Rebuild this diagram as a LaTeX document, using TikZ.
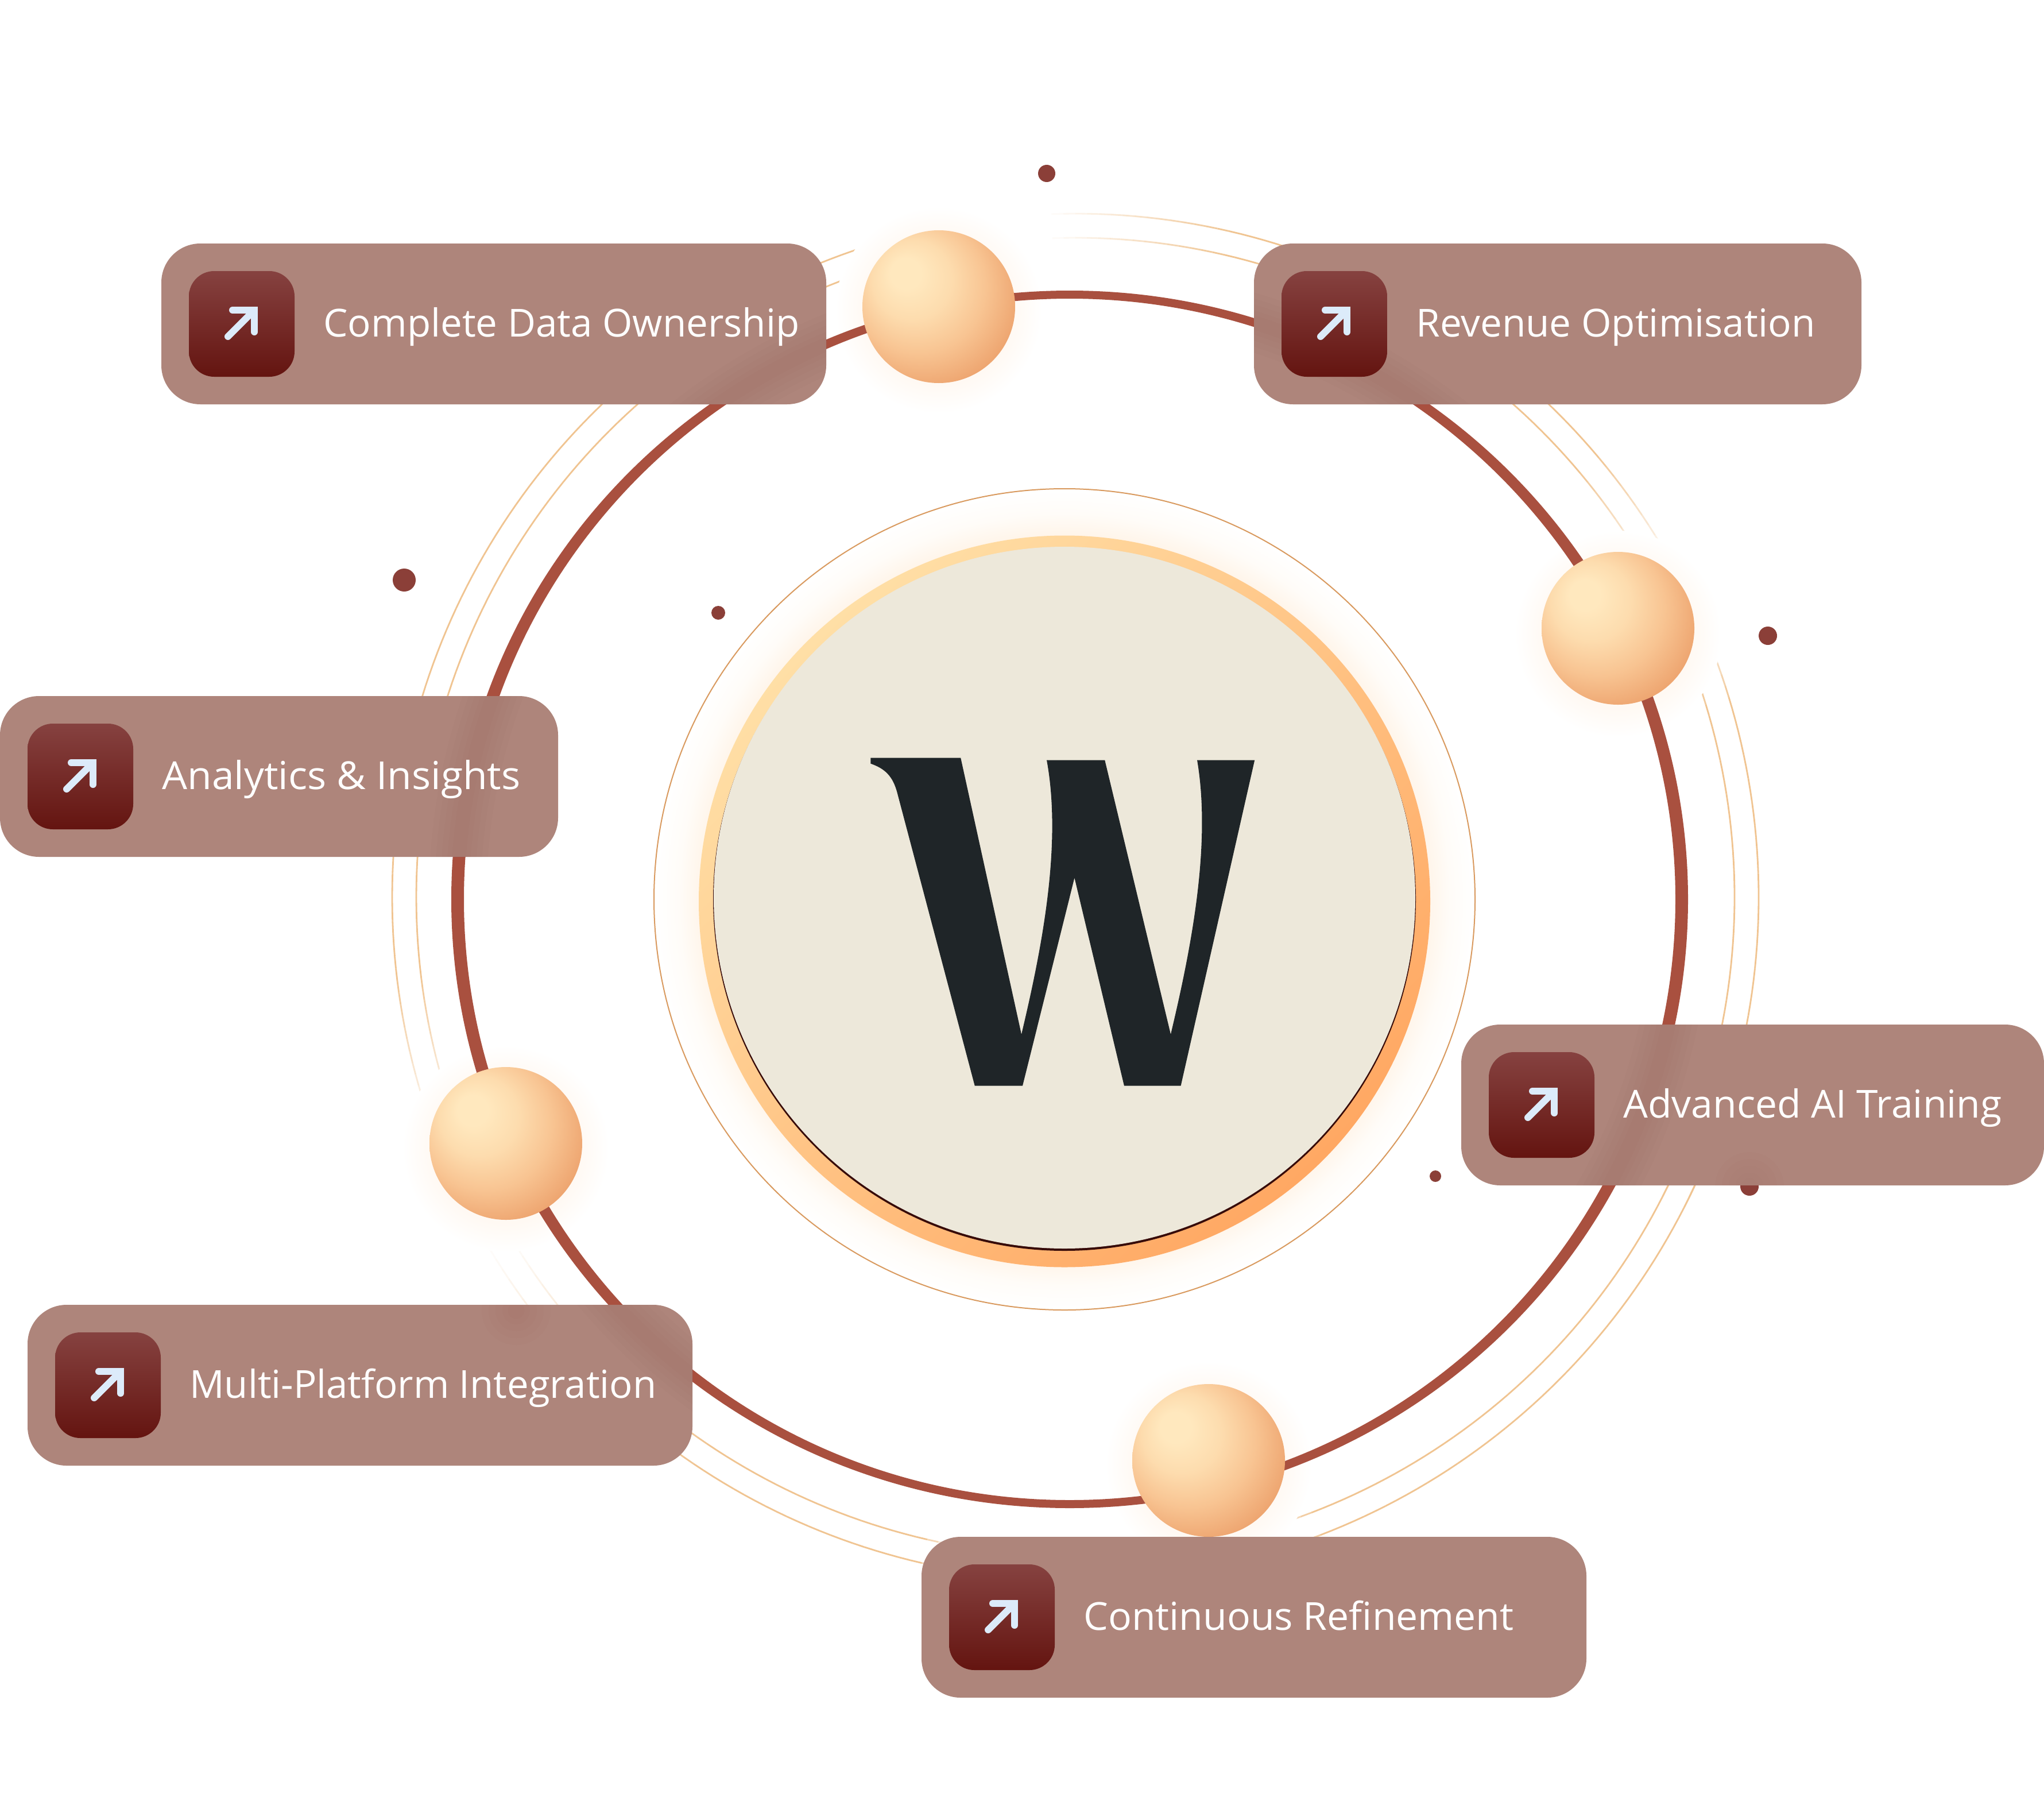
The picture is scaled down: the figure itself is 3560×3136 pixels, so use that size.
\documentclass[tikz,border=0pt]{standalone}
\usepackage{fontspec}
\usepackage{graphicx}
\setmainfont{Open Sans}
\definecolor{ringc}{HTML}{A9503F}
\definecolor{thinc}{HTML}{F0C491}
\definecolor{thinr}{HTML}{D99A5F}
\definecolor{pillc}{HTML}{AE857B}
\definecolor{iconT}{HTML}{864240}
\definecolor{iconB}{HTML}{641410}
\definecolor{arrowc}{HTML}{DCEBFA}
\definecolor{dotc}{HTML}{8B3F38}
\definecolor{discc}{HTML}{EDE8DA}
\definecolor{wordc}{HTML}{1F2528}
\definecolor{sphA}{HTML}{FFE8BE}
\definecolor{sphM}{HTML}{FDDCAE}
\definecolor{sphB}{HTML}{F8C492}
\definecolor{sphC}{HTML}{EEA671}
\definecolor{haloA}{HTML}{FFF4E8}
\definecolor{haloB}{HTML}{FFFCF8}
\definecolor{glowA}{HTML}{FFF9F3}
\definecolor{blurc}{HTML}{8F4F45}
\definecolor{bandT}{HTML}{FFDFA6}
\definecolor{bandB}{HTML}{FFA863}
\pgfdeclareradialshading{sphshade}{\pgfpoint{-12bp}{12bp}}{color(0bp)=(sphA);color(5bp)=(sphA);color(13bp)=(sphM);color(22bp)=(sphB);color(31bp)=(sphC);color(50bp)=(sphC)}
\pgfdeclareradialshading{haloshade}{\pgfpoint{0bp}{0bp}}{color(0bp)=(haloA);color(22bp)=(haloA);color(23.5bp)=(haloB);color(25bp)=(white);color(50bp)=(white)}
\pgfdeclareradialshading{glowshade}{\pgfpoint{0bp}{0bp}}{color(0bp)=(glowA);color(18bp)=(glowA);color(25bp)=(white);color(50bp)=(white)}
\tikzset{
  pillbox/.style={rectangle,rounded corners=34pt,fill=pillc,inner sep=0pt,minimum height=140pt},
  iconbox/.style={rectangle,rounded corners=22pt,top color=iconT,bottom color=iconB,inner sep=0pt,minimum width=92pt,minimum height=92pt},
  iconarrow/.style={draw=arrowc,line width=6pt,line cap=round,line join=miter},
  sphere/.style={circle,inner sep=0pt,minimum size=133pt,shading=sphshade},
  glowball/.style={circle,inner sep=0pt,minimum size=180pt,shading=glowshade},
  speck/.style={circle,inner sep=0pt,fill=dotc},
  plabel/.style={anchor=base west,inner sep=0pt,text=white,font=\fontsize{33.6pt}{40pt}\selectfont},
}
% one thin arc with faded ends; #1 radius, #2 start, #3 end, #4 fade at start, #5 fade at end
\newcommand\fadearc[5]{%
  \foreach \aa in {#2,...,#3}{%
    \pgfmathsetmacro\bb{\aa+1}%
    \pgfmathsetmacro\oo{max(0.05,min(1,min((\aa-#2+1)/#4,(#3-\aa+1)/#5)))}%
    \draw[thinc,line width=1.4pt,opacity=\oo,shift={(1873,1562)}] (\aa:#1) -- (\bb:#1);
  }%
}
\newcommand\bothfade[4]{\fadearc{1148}{#1}{#2}{#3}{#4}\fadearc{1190}{#1}{#2}{#3}{#4}}
\newcommand\ringpath{(1863,1566) ellipse [x radius=1077,y radius=1060] (1863,1566) ellipse [x radius=1055,y radius=1046]}
\newcommand\blurstuff{%
  \foreach \w in {50,40,30,20,12}{%
    \draw[blurc,opacity=.035,line width=\w pt] (1863,1566) ellipse [x radius=1066,y radius=1053];
    \fill[blurc,opacity=.03] (899,2282) circle (\w*1.2);
    \fill[blurc,opacity=.02] (3047,2066) circle (\w*1.2);
  }%
}
% name, left, top, width, text width, text
\newcommand\pillitem[6]{%
  \node[pillbox,minimum width=#4*0.5pt] (#1) at (#2+#4/2,#3+140) {};
  \begin{scope}
    \clip[rounded corners=34pt] (#2,#3) rectangle ++(#4,280);
    \blurstuff
  \end{scope}
  \node[iconbox] (#1i) at (#2+48+92,#3+48+92) {};
  \draw[iconarrow] (#2+48+68,#3+48+114) -- (#2+48+112,#3+48+70);
  \draw[iconarrow] (#2+48+76,#3+48+68) -- (#2+48+114,#3+48+68) -- (#2+48+114,#3+48+106);
  \node[plabel] (#1t) at (#2+282,#3+162) {\resizebox{\dimexpr#5pt/2\relax}{\height}{#6}};
}
\begin{document}
\begin{tikzpicture}[x=0.5pt,y=-0.5pt]
\useasboundingbox (0,0) rectangle (3560,3136);
\fill[white] (0,0) rectangle (3560,3136);

% thin outer arcs
\bothfade{-92}{-66}{16}{2}
\bothfade{-54}{-30}{2}{12}
\bothfade{-24}{26}{8}{2}
\bothfade{24}{73}{2}{6}
\bothfade{101}{148}{3}{26}
\bothfade{160}{232}{14}{2}
\bothfade{244}{256}{2}{6}

% glows
\node[glowball] (gA) at (1635,540) {};
\node[glowball] (gB) at (2818,1104) {};
\node[glowball] (gC) at (881,2000) {};
\node[glowball] (gD) at (2105,2550) {};

% main ring
\fill[ringc,even odd rule] \ringpath;

% specks
\node[speck,minimum size=15pt] (dA) at (1823,302) {};
\node[speck,minimum size=20pt] (dB) at (704,1010) {};
\node[speck,minimum size=12pt] (dC) at (1251,1067) {};
\node[speck,minimum size=16pt] (dD) at (3079,1107) {};
\node[speck,minimum size=10pt] (dE) at (2500,2048) {};
\node[speck,minimum size=16pt] (dF) at (3047,2066) {};

% centre
\node[circle,inner sep=0pt,minimum size=715pt,shading=haloshade] (halo) at (1854,1566) {};
\node[circle,draw=thinr,line width=1pt,inner sep=0pt,minimum size=715pt] (outerline) at (1854,1566) {};
\node[circle,inner sep=0pt,minimum size=637pt,top color=bandT,bottom color=bandB,shading angle=45] (band) at (1854,1569.5) {};
\node[circle,inner sep=0pt,minimum size=612pt,fill=black!45!iconB] (rim) at (1854,1566) {};
\node[circle,inner sep=0pt,minimum size=611pt,fill=discc] (disc) at (1854,1563) {};

% W
\fill[wordc] (1516.3,1319.6) -- (1673.2,1319.6) -- (1779,1801)
  .. controls (1815,1650) and (1850,1470) .. (1823,1323.5)
  -- (1924.2,1323.5) -- (2039,1801)
  .. controls (2075,1650) and (2110,1470) .. (2085,1323.5)
  -- (2185.2,1323.5) -- (2056.6,1890.5) -- (1957.9,1890.5) -- (1871.4,1528.5)
  -- (1781,1890.5) -- (1697.7,1890.5) -- (1563,1381.6)
  .. controls (1555,1350) and (1540,1338) .. (1516.3,1329.6) -- cycle;

% spheres
\node[sphere] (sA) at (1635,534) {};
\node[sphere] (sB) at (2818,1094) {};
\node[sphere] (sC) at (881,1991) {};
\node[sphere] (sD) at (2105,2543) {};

% pills
\pillitem{pA}{281}{424}{1158}{829}{Complete Data Ownership}
\pillitem{pB}{2184}{424}{1058}{695}{Revenue Optimisation}
\pillitem{pC}{0}{1212}{972}{624}{Analytics \& Insights}
\pillitem{pD}{2545}{1784}{1015}{659}{Advanced AI Training}
\pillitem{pE}{48}{2272}{1158}{813}{Multi-Platform Integration}
\pillitem{pF}{1605}{2676}{1158}{749}{Continuous Refinement}
\end{tikzpicture}
\end{document}
